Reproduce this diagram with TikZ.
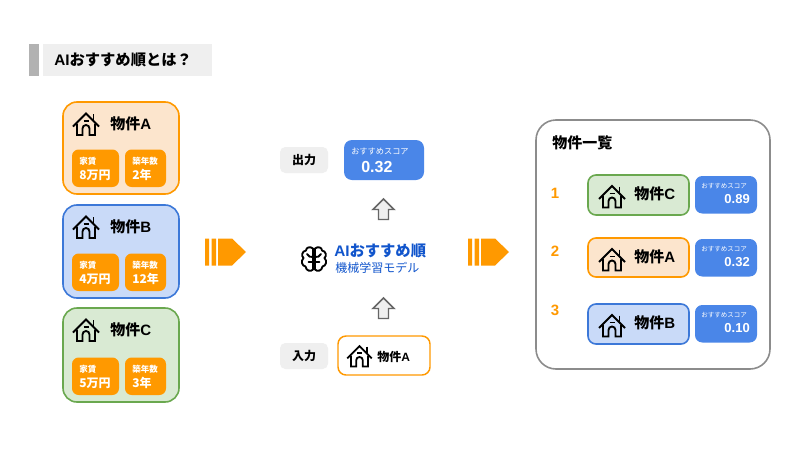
\documentclass[tikz,border=0pt]{standalone}
\usepackage{fontspec}
\setmainfont{Liberation Sans}
\newfontfamily\jp{Noto Sans CJK JP}
\usetikzlibrary{calc}
\definecolor{orng}{HTML}{FF9900}
\definecolor{bluebx}{HTML}{4A86E8}
\definecolor{peach}{HTML}{FCE5CD}
\definecolor{lblue}{HTML}{C9DAF8}
\definecolor{lgreen}{HTML}{D9EAD3}
\definecolor{bgreen}{HTML}{6AA84F}
\definecolor{bblue}{HTML}{3C78D8}
\definecolor{lgray}{HTML}{EFEFEF}
\definecolor{dblue}{HTML}{1155CC}
\newcommand{\px}[1]{\fontsize{\dimexpr #1pt*3/4\relax}{\dimexpr #1pt\relax}\selectfont}
\newcommand{\housepic}[3]{%
\begin{scope}[shift={(#1,#2)},scale=#3,line width=1.4pt*#3,line join=miter,black]
\draw (-13,2.5) -- (0,-10.5) -- (13,2.5);
\draw (7.5,-10) -- (7.5,-3.5);
\draw (-9,-0.5) -- (-9,11) -- (-3.5,11) -- (-3.5,4.5) arc[start angle=180,end angle=360,radius=3.5] -- (3.5,11) -- (9,11) -- (9,-0.5);
\draw (-2.5,-3) -- (2.5,-3);
\end{scope}}
\tikzset{
 x=0.75pt,y=-0.75pt,
 lbl/.style={inner sep=0pt,anchor=west,text=black},
 wht/.style={inner sep=0pt,anchor=west,text=white},
 card/.style={rounded corners=10.5pt,line width=1.2pt},
 cardO/.style={card,draw=orng,fill=peach},
 cardB/.style={card,draw=bblue,fill=lblue},
 cardG/.style={card,draw=bgreen,fill=lgreen},
 rowcard/.style={rounded corners=6pt},
 small/.style={rounded corners=5pt,fill=orng,draw=none},
 score/.style={rounded corners=5.5pt,fill=bluebx,draw=none},
 tag/.style={rounded corners=4pt,fill=lgray,draw=none},
 uparrow/.style={draw=black!60,fill=lgray,line width=1.1pt,line join=miter},
}
\newcommand{\bigarrow}[2]{%
\fill[orng] (#1,#2) rectangle ++(4,27) ++(2.5,-27) rectangle ++(4.5,27);
\fill[orng] (#1+13,#2) -- ++(14,0) -- ++(14,13.5) -- ++(-14,13.5) -- ++(-14,0) -- cycle;}
\newcommand{\uparr}[2]{%
\draw[uparrow] (#1,#2) -- ++(10.5,10.5) -- ++(-5.5,0) -- ++(0,10) -- ++(-10,0) -- ++(0,-10) -- ++(-5.5,0) -- cycle;}
\newcommand{\propcard}[7]{%
\draw[#3] (63,#1) rectangle (179,#2);
\housepic{86}{#1+22}{1}
\node[lbl] (#7t) at (110,#1+21.5) {\px{15}\bfseries\jp 物件\fontspec{Liberation Sans}\bfseries #4};
\fill[small] (72,#2-44.5) rectangle (119,#2-7);
\fill[small] (125,#2-44.5) rectangle (166,#2-7);
\node[wht] (#7a) at (79,#2-32.5) {\px{8.5}\bfseries\jp 家賃};
\node[wht] (#7b) at (79,#2-19) {\px{12}\bfseries\jp #5};
\node[wht] (#7c) at (132,#2-32.5) {\px{8.5}\bfseries\jp 築年数};
\node[wht] (#7d) at (132,#2-19) {\px{12}\bfseries\jp #6};
}
\newcommand{\rankrow}[8]{%
\node[text=orng,inner sep=0pt] (#7n) at (555,#8) {\px{15}\bfseries #6};
\draw[#3,rowcard] (588,#1) rectangle (689,#2);
\housepic{612}{#1+21.5}{1}
\node[lbl] (#7t) at (634,#1+19) {\px{15}\bfseries\jp 物件\fontspec{Liberation Sans}\bfseries #4};
\fill[score] (695,#1+1) rectangle (757,#1+38.5);
\node[wht] (#7s) at (701,#1+11.5) {\px{6.5}\jp おすすめスコア};
\node[text=white,inner sep=0pt,anchor=east] (#7v) at (750,#1+24) {\px{13}\bfseries #5};
}
\begin{document}
\begin{tikzpicture}
\useasboundingbox (0,0) rectangle (800,450);
\fill[white] (0,0) rectangle (800,450);
\fill[black!30] (29,44) rectangle (39,76);
\fill[lgray] (43,44) rectangle (212,76);
\node[lbl] (title) at (54,60) {\px{15.3}\bfseries AI{\jp おすすめ順とは？}};
\propcard{102}{194}{cardO}{A}{8万円}{2年}{pa}
\propcard{205}{298}{cardB}{B}{4万円}{12年}{pb}
\propcard{308}{402}{cardG}{C}{5万円}{3年}{pc}
\bigarrow{205}{238.5}
\bigarrow{468}{238.5}
\fill[tag] (280,147) rectangle (328,173);
\node[inner sep=0pt] (out) at (304,160) {\px{12}\bfseries\jp 出力};
\fill[rounded corners=6pt,fill=bluebx] (344,140) rectangle (424,180);
\node[wht] (outa) at (351,151) {\px{8.2}\jp おすすめスコア};
\node[wht] (outb) at (361,167) {\px{16}\bfseries 0.32};
\uparr{383.5}{199}
\uparr{383.5}{298}
\begin{scope}[shift={(314,259)},line width=1.4pt,black,line join=round,line cap=round]
\draw (-1,-10.5) .. controls (-4,-13) and (-8,-11.5) .. (-8,-8.5) .. controls (-12,-8) and (-13,-3) .. (-10.5,-1) .. controls (-13.5,2) and (-12,7) .. (-8.5,7.5) .. controls (-8,12) and (-3,13) .. (-1,10.5) -- cycle;
\draw (1,-10.5) .. controls (4,-13) and (8,-11.5) .. (8,-8.5) .. controls (12,-8) and (13,-3) .. (10.5,-1) .. controls (13.5,2) and (12,7) .. (8.5,7.5) .. controls (8,12) and (3,13) .. (1,10.5) -- cycle;
\draw (-1,-2) .. controls (-3,-2) and (-6,-2) .. (-7,-5) (1,-2) .. controls (3,-2) and (6,-2) .. (7,-5) (-1,3) -- (-5.5,3) (1,3) -- (5.5,3);
\end{scope}
\node[lbl,text=dblue] (ai) at (334,251) {\px{15.3}\bfseries AI{\jp おすすめ順}};
\node[lbl,text=dblue] (ml) at (335,267.5) {\px{12}\jp 機械学習モデル};
\fill[tag] (280,343) rectangle (328,369);
\node[inner sep=0pt] (in) at (304,356) {\px{12}\bfseries\jp 入力};
\draw[rounded corners=6pt,draw=orng,line width=1.1pt,fill=white] (338,336) rectangle (430,375);
\housepic{359.5}{356}{0.95}
\node[lbl] (inname) at (377,357) {\px{12}\bfseries\jp 物件\fontspec{Liberation Sans}\bfseries A};
\draw[rounded corners=15pt,draw=black!45,line width=1.2pt,fill=white] (536,120) rectangle (770,369);
\node[lbl] (list) at (552,143) {\px{15}\bfseries\jp 物件一覧};
\rankrow{175}{215}{cardG}{C}{0.89}{1}{ra}{193}
\rankrow{238}{277}{cardO}{A}{0.32}{2}{rb}{251}
\rankrow{304}{344}{cardB}{B}{0.10}{3}{rc}{310}
\end{tikzpicture}
\end{document}
